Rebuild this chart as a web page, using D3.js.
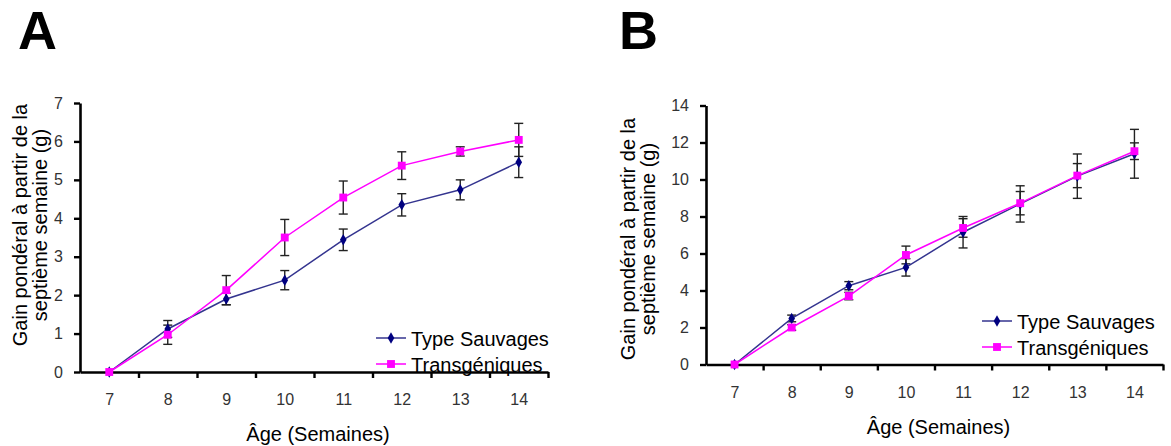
<!doctype html>
<html lang="fr">

<head>
  <meta charset="UTF-8">
  <title>Gain pondéral</title>
  <style type="text/css">
    body { margin: 0; background: #fff; }
    text { font-family: "Liberation Sans", Arial, sans-serif; }
  </style>
  <script src="https://cdn.jsdelivr.net/npm/d3@7"></script>
</head>

<body>
  <div id="container"></div>
  <script>
    // semaines
    var weeks = [7, 8, 9, 10, 11, 12, 13, 14];
    var seriesNames = ['Type Sauvages', 'Transgéniques'];

    // panneau A
    var wtA = [0, 1.12, 1.90, 2.39, 3.44, 4.35, 4.74, 5.46];
    var wtAErr = [0, 0.22, 0.15, 0.25, 0.28, 0.29, 0.26, 0.40];
    var tgA = [0, 0.97, 2.13, 3.50, 4.54, 5.37, 5.74, 6.04];
    var tgAErr = [0, 0.25, 0.38, 0.47, 0.43, 0.36, 0.12, 0.43];
    var yTicksA = [0, 1, 2, 3, 4, 5, 6, 7];

    // panneau B
    var wtB = [0, 2.49, 4.26, 5.25, 7.15, 8.68, 10.18, 11.39];
    var wtBErr = [0, 0.18, 0.22, 0.47, 0.85, 0.98, 1.2, 1.32];
    var tgB = [0, 2.0, 3.70, 5.92, 7.38, 8.72, 10.21, 11.53];
    var tgBErr = [0, 0.15, 0.2, 0.48, 0.5, 0.63, 0.65, 0.45];
    var yTicksB = [0, 2, 4, 6, 8, 10, 12, 14];

    var width = 1171, height = 446;
    var svg = d3.select('#container').append('svg').attr('width', width).attr('height', height);

    var navyLine = '#34348f', navyMark = '#000080', pink = '#ff00ff';

    function drawPanel(p) {
      var g = svg.append('g');
      // x : une bande par semaine
      var x = d3.scaleLinear().domain([6.5, 14.5]).range([p.left, p.right]);
      var y = d3.scaleLinear().domain([0, p.yMax]).range([p.bottom, p.top]);

      // lettre du panneau
      g.append('text').attr('x', p.letterX).attr('y', 49)
        .attr('font-size', 54).attr('font-weight', 'bold').text(p.letter);

      // axe x : marques entre les semaines
      var xTickAxis = d3.axisBottom(x)
        .tickValues(d3.range(7.5, 15, 1)).tickFormat('').tickSize(6).tickSizeOuter(0);
      var xa = g.append('g').attr('transform', 'translate(0,' + p.bottom + ')').call(xTickAxis);
      var xLab = d3.axisBottom(x).tickValues(weeks).tickFormat(d3.format('d')).tickSize(0).tickPadding(22);
      var xl = g.append('g').attr('transform', 'translate(0,' + p.bottom + ')').call(xLab);
      xl.select('.domain').remove();

      var ya = g.append('g').attr('transform', 'translate(' + p.left + ',0)')
        .call(d3.axisLeft(y).tickValues(p.yTicks).tickFormat(d3.format('d'))
          .tickSize(6).tickSizeOuter(0).tickPadding(11));

      [xa, ya].forEach(function (a) {
        a.select('.domain').attr('stroke', '#000').attr('stroke-width', 2.6);
        a.selectAll('.tick line').attr('stroke', '#000').attr('stroke-width', 2.4);
      });
      [xl, ya].forEach(function (a) {
        a.selectAll('.tick text').attr('font-size', 16).attr('fill', '#333')
          .style('font-family', '"Liberation Sans", Arial, sans-serif');
      });

      // titres des axes
      g.append('text').attr('x', (p.left + p.right) / 2 + 4).attr('y', p.bottom + 69)
        .attr('text-anchor', 'middle').attr('font-size', 20).text('Âge (Semaines)');
      var yt = g.append('text').attr('text-anchor', 'middle').attr('font-size', 20)
        .attr('transform', 'translate(' + p.titleX + ',' + p.titleY + ') rotate(-90)');
      yt.append('tspan').attr('x', 0).attr('dy', 0).text('Gain pondéral à partir de la');
      yt.append('tspan').attr('x', 0).attr('dy', 20).text('septième semaine (g)');

      var line = d3.line().x(function (d, i) { return x(weeks[i]); }).y(function (d) { return y(d); });

      var series = [
        { vals: p.wt, err: p.wtErr, stroke: navyLine, mark: navyMark, shape: d3.symbolDiamond, size: 38 },
        { vals: p.tg, err: p.tgErr, stroke: pink, mark: pink, shape: d3.symbolSquare, size: 62 }
      ];

      // barres d'erreur
      series.forEach(function (s) {
        var eb = g.append('g').attr('stroke', '#222').attr('stroke-width', 1.4);
        s.vals.forEach(function (v, i) {
          var e = s.err[i];
          if (!e) return;
          var cx = x(weeks[i]);
          eb.append('line').attr('x1', cx).attr('x2', cx).attr('y1', y(v - e)).attr('y2', y(v + e));
          eb.append('line').attr('x1', cx - 4.5).attr('x2', cx + 4.5).attr('y1', y(v - e)).attr('y2', y(v - e));
          eb.append('line').attr('x1', cx - 4.5).attr('x2', cx + 4.5).attr('y1', y(v + e)).attr('y2', y(v + e));
        });
      });

      series.forEach(function (s) {
        g.append('path').attr('d', line(s.vals)).attr('fill', 'none')
          .attr('stroke', s.stroke).attr('stroke-width', 1.5);
        g.selectAll(null).data(s.vals).enter().append('path')
          .attr('d', d3.symbol().type(s.shape).size(s.size))
          .attr('transform', function (d, i) { return 'translate(' + x(weeks[i]) + ',' + y(d) + ')'; })
          .attr('fill', s.mark);
      });

      // légende
      series.forEach(function (s, i) {
        var ly = p.legY + i * 26;
        g.append('line').attr('x1', p.legX).attr('x2', p.legX + 30).attr('y1', ly).attr('y2', ly)
          .attr('stroke', s.stroke).attr('stroke-width', 1.5);
        g.append('path').attr('d', d3.symbol().type(s.shape).size(s.size))
          .attr('transform', 'translate(' + (p.legX + 15) + ',' + ly + ')').attr('fill', s.mark);
        g.append('text').attr('x', p.legX + 35).attr('y', ly + 7.5)
          .attr('font-size', 20).attr('fill', '#000').text(seriesNames[i]);
      });
    }

    drawPanel({
      letter: 'A', letterX: 18, left: 80, right: 548, top: 103, bottom: 372, yMax: 7, yTicks: yTicksA,
      wt: wtA, wtErr: wtAErr, tg: tgA, tgErr: tgAErr,
      titleX: 27, titleY: 225, legX: 376, legY: 338
    });
    drawPanel({
      letter: 'B', letterX: 619, left: 706, right: 1163, top: 105.5, bottom: 364.5, yMax: 14, yTicks: yTicksB,
      wt: wtB, wtErr: wtBErr, tg: tgB, tgErr: tgBErr,
      titleX: 635, titleY: 239, legX: 982, legY: 321
    });
  </script>
</body>

</html>
